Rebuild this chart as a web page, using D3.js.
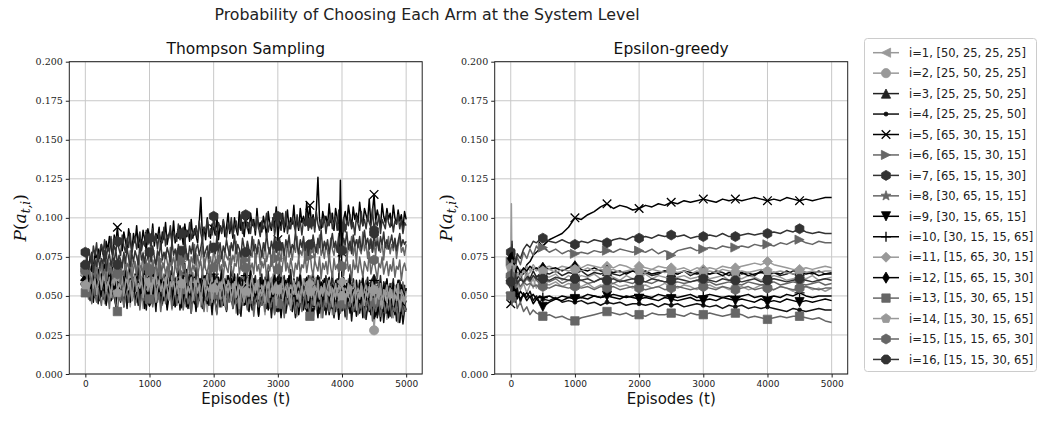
<!DOCTYPE html>
<html><head><meta charset="utf-8">
<script src="https://cdn.jsdelivr.net/npm/d3@7"></script>
<style>body{margin:0;background:#fff}svg{display:block}</style>
</head><body>
<svg id="chart" width="1038" height="423"></svg>
<script>
// ---------------- DATA ----------------
const suptitle = "Probability of Choosing Each Arm at the System Level";
const panelTitles = ["Thompson Sampling", "Epsilon-greedy"];
const xLabel = "Episodes (t)";
const xTicks = [0, 1000, 2000, 3000, 4000, 5000];
const yTicks = [0.000, 0.025, 0.050, 0.075, 0.100, 0.125, 0.150, 0.175, 0.200];
const seriesLabels = [
  "i=1, [50, 25, 25, 25]", "i=2, [25, 50, 25, 25]", "i=3, [25, 25, 50, 25]", "i=4, [25, 25, 25, 50]",
  "i=5, [65, 30, 15, 15]", "i=6, [65, 15, 30, 15]", "i=7, [65, 15, 15, 30]", "i=8, [30, 65, 15, 15]",
  "i=9, [30, 15, 65, 15]", "i=10, [30, 15, 15, 65]", "i=11, [15, 65, 30, 15]", "i=12, [15, 65, 15, 30]",
  "i=13, [15, 30, 65, 15]", "i=14, [15, 30, 15, 65]", "i=15, [15, 15, 65, 30]", "i=16, [15, 15, 30, 65]"
];
// Thompson Sampling: read every 25 episodes (0..5000)
const tsEpisodes = d3.range(0, 5001, 25);
const thompson = [
[0.066,0.061,0.054,0.060,0.052,0.063,0.058,0.055,0.068,0.051,0.060,0.056,0.064,0.049,0.059,0.062,0.053,0.066,0.057,0.050,0.061,0.055,0.063,0.047,0.058,0.064,0.052,0.060,0.056,0.067,0.054,0.059,0.049,0.062,0.057,0.053,0.065,0.050,0.058,0.061,0.055,0.063,0.048,0.057,0.060,0.052,0.066,0.056,0.051,0.062,0.058,0.046,0.060,0.055,0.064,0.051,0.057,0.062,0.049,0.059,0.063,0.054,0.058,0.050,0.065,0.056,0.052,0.061,0.047,0.058,0.062,0.055,0.049,0.063,0.057,0.053,0.060,0.066,0.051,0.056,0.059,0.048,0.062,0.054,0.058,0.045,0.061,0.056,0.063,0.050,0.057,0.052,0.064,0.049,0.059,0.055,0.061,0.047,0.058,0.062,0.053,0.060,0.046,0.057,0.063,0.051,0.056,0.059,0.048,0.061,0.055,0.050,0.062,0.056,0.044,0.058,0.053,0.064,0.049,0.057,0.060,0.052,0.047,0.061,0.055,0.058,0.050,0.063,0.054,0.046,0.059,0.056,0.051,0.062,0.048,0.057,0.053,0.060,0.045,0.058,0.054,0.061,0.049,0.056,0.052,0.063,0.047,0.058,0.055,0.050,0.060,0.046,0.057,0.053,0.062,0.049,0.055,0.059,0.044,0.057,0.052,0.060,0.048,0.055,0.061,0.050,0.056,0.043,0.058,0.053,0.047,0.059,0.054,0.062,0.049,0.056,0.051,0.058,0.045,0.060,0.053,0.048,0.057,0.051,0.061,0.046,0.055,0.059,0.049,0.054,0.044,0.058,0.052,0.056,0.047,0.060,0.051,0.055,0.042,0.057,0.053],
[0.058,0.053,0.061,0.049,0.056,0.051,0.063,0.047,0.055,0.059,0.050,0.057,0.045,0.060,0.053,0.048,0.062,0.052,0.056,0.044,0.058,0.051,0.055,0.047,0.061,0.053,0.049,0.057,0.043,0.059,0.052,0.056,0.046,0.060,0.050,0.054,0.042,0.058,0.051,0.047,0.057,0.049,0.053,0.060,0.045,0.055,0.050,0.058,0.044,0.052,0.056,0.047,0.059,0.051,0.041,0.054,0.049,0.057,0.046,0.052,0.058,0.044,0.053,0.050,0.056,0.042,0.055,0.048,0.059,0.046,0.051,0.055,0.043,0.057,0.049,0.053,0.040,0.054,0.050,0.047,0.056,0.045,0.052,0.058,0.043,0.051,0.048,0.055,0.041,0.053,0.049,0.056,0.046,0.051,0.039,0.054,0.048,0.052,0.044,0.057,0.050,0.042,0.053,0.047,0.056,0.040,0.051,0.049,0.054,0.043,0.052,0.046,0.038,0.055,0.048,0.051,0.044,0.057,0.047,0.041,0.053,0.049,0.045,0.055,0.039,0.050,0.047,0.052,0.043,0.054,0.046,0.051,0.037,0.053,0.048,0.044,0.055,0.042,0.050,0.047,0.052,0.040,0.049,0.045,0.054,0.043,0.048,0.036,0.051,0.046,0.053,0.041,0.047,0.050,0.038,0.052,0.044,0.049,0.043,0.054,0.045,0.050,0.036,0.048,0.053,0.042,0.047,0.044,0.051,0.039,0.049,0.045,0.052,0.037,0.048,0.043,0.050,0.041,0.054,0.046,0.028,0.044,0.049,0.038,0.047,0.051,0.040,0.045,0.035,0.049,0.043,0.048,0.036,0.046,0.050,0.039,0.044,0.047,0.034,0.045,0.041],
[0.060,0.066,0.057,0.063,0.070,0.055,0.061,0.067,0.053,0.064,0.059,0.071,0.056,0.062,0.052,0.068,0.060,0.065,0.054,0.063,0.058,0.069,0.055,0.061,0.066,0.051,0.064,0.059,0.072,0.056,0.062,0.053,0.067,0.058,0.064,0.050,0.061,0.069,0.055,0.060,0.065,0.057,0.052,0.068,0.059,0.063,0.054,0.070,0.058,0.062,0.049,0.064,0.060,0.056,0.067,0.053,0.061,0.058,0.066,0.051,0.063,0.059,0.071,0.055,0.060,0.064,0.050,0.062,0.057,0.068,0.054,0.061,0.058,0.065,0.048,0.063,0.056,0.060,0.067,0.052,0.062,0.057,0.064,0.051,0.059,0.066,0.055,0.061,0.049,0.063,0.058,0.069,0.054,0.060,0.056,0.064,0.050,0.062,0.059,0.065,0.053,0.061,0.057,0.067,0.052,0.058,0.063,0.049,0.060,0.056,0.064,0.051,0.059,0.055,0.066,0.053,0.061,0.048,0.062,0.057,0.060,0.065,0.052,0.058,0.063,0.050,0.061,0.056,0.067,0.054,0.059,0.047,0.062,0.057,0.064,0.052,0.058,0.061,0.049,0.063,0.055,0.060,0.066,0.051,0.058,0.054,0.062,0.048,0.060,0.057,0.063,0.052,0.059,0.056,0.065,0.050,0.058,0.061,0.047,0.060,0.055,0.062,0.051,0.058,0.053,0.064,0.049,0.061,0.056,0.059,0.046,0.060,0.055,0.063,0.051,0.057,0.062,0.048,0.058,0.054,0.061,0.050,0.057,0.053,0.063,0.047,0.059,0.056,0.060,0.049,0.058,0.054,0.061,0.046,0.057,0.052,0.060,0.055,0.050,0.057],
[0.056,0.050,0.058,0.047,0.054,0.061,0.049,0.055,0.045,0.059,0.052,0.048,0.057,0.044,0.053,0.060,0.047,0.051,0.056,0.043,0.055,0.050,0.046,0.058,0.049,0.054,0.042,0.057,0.051,0.047,0.059,0.045,0.052,0.056,0.044,0.053,0.049,0.058,0.041,0.054,0.050,0.055,0.046,0.052,0.040,0.056,0.048,0.053,0.045,0.057,0.049,0.043,0.054,0.050,0.058,0.044,0.051,0.047,0.055,0.041,0.052,0.048,0.056,0.043,0.050,0.054,0.039,0.051,0.046,0.053,0.045,0.055,0.049,0.042,0.052,0.047,0.056,0.044,0.050,0.038,0.053,0.046,0.051,0.055,0.043,0.049,0.045,0.054,0.040,0.050,0.047,0.052,0.042,0.049,0.055,0.044,0.048,0.037,0.051,0.046,0.050,0.043,0.053,0.047,0.041,0.052,0.046,0.049,0.038,0.051,0.044,0.049,0.054,0.042,0.047,0.050,0.036,0.048,0.045,0.052,0.041,0.047,0.050,0.044,0.053,0.039,0.046,0.049,0.043,0.051,0.045,0.036,0.048,0.044,0.050,0.041,0.047,0.052,0.040,0.046,0.049,0.042,0.035,0.047,0.044,0.051,0.039,0.046,0.043,0.049,0.038,0.045,0.050,0.042,0.047,0.036,0.044,0.048,0.041,0.046,0.043,0.049,0.037,0.045,0.042,0.048,0.034,0.046,0.040,0.044,0.047,0.039,0.045,0.041,0.049,0.035,0.043,0.046,0.038,0.044,0.041,0.047,0.036,0.043,0.040,0.046,0.033,0.044,0.039,0.045,0.037,0.043,0.040,0.046,0.034,0.042,0.038,0.044,0.032,0.041,0.040],
[0.063,0.070,0.066,0.075,0.071,0.068,0.078,0.073,0.080,0.074,0.083,0.077,0.072,0.085,0.079,0.088,0.081,0.076,0.089,0.084,0.094,0.082,0.087,0.079,0.091,0.085,0.080,0.093,0.086,0.078,0.090,0.084,0.095,0.081,0.088,0.083,0.092,0.086,0.079,0.093,0.088,0.084,0.096,0.082,0.090,0.087,0.094,0.080,0.091,0.086,0.097,0.083,0.089,0.092,0.085,0.098,0.084,0.090,0.087,0.095,0.090,0.083,0.096,0.088,0.092,0.085,0.099,0.087,0.093,0.089,0.084,0.097,0.113,0.088,0.094,0.086,0.100,0.091,0.087,0.096,0.093,0.089,0.101,0.086,0.095,0.091,0.098,0.088,0.094,0.103,0.090,0.096,0.087,0.100,0.093,0.089,0.104,0.092,0.097,0.088,0.098,0.094,0.090,0.103,0.095,0.099,0.089,0.106,0.093,0.097,0.091,0.101,0.095,0.088,0.104,0.096,0.092,0.100,0.094,0.107,0.086,0.099,0.094,0.103,0.091,0.097,0.105,0.093,0.100,0.096,0.108,0.094,0.099,0.092,0.106,0.097,0.101,0.095,0.110,0.098,0.108,0.096,0.102,0.094,0.105,0.126,0.099,0.093,0.104,0.098,0.101,0.095,0.109,0.097,0.103,0.092,0.106,0.100,0.096,0.111,0.078,0.099,0.104,0.096,0.108,0.101,0.094,0.107,0.099,0.103,0.097,0.110,0.100,0.095,0.106,0.102,0.098,0.112,0.096,0.104,0.115,0.098,0.105,0.100,0.094,0.109,0.101,0.097,0.106,0.099,0.103,0.095,0.108,0.100,0.096,0.105,0.098,0.102,0.093,0.104,0.099],
[0.068,0.063,0.072,0.066,0.060,0.070,0.065,0.074,0.062,0.069,0.073,0.064,0.070,0.076,0.066,0.071,0.063,0.075,0.068,0.072,0.067,0.074,0.062,0.070,0.077,0.065,0.071,0.068,0.079,0.066,0.073,0.069,0.064,0.076,0.070,0.067,0.078,0.065,0.072,0.075,0.069,0.080,0.066,0.073,0.070,0.077,0.064,0.074,0.071,0.068,0.078,0.072,0.067,0.081,0.070,0.075,0.069,0.079,0.066,0.074,0.072,0.068,0.080,0.073,0.077,0.065,0.075,0.071,0.083,0.070,0.076,0.069,0.074,0.082,0.068,0.073,0.078,0.070,0.075,0.067,0.080,0.074,0.071,0.084,0.072,0.077,0.069,0.079,0.075,0.073,0.082,0.070,0.076,0.072,0.085,0.074,0.078,0.068,0.080,0.076,0.073,0.083,0.071,0.078,0.075,0.086,0.072,0.077,0.081,0.070,0.079,0.074,0.084,0.072,0.077,0.081,0.069,0.080,0.076,0.087,0.074,0.079,0.072,0.083,0.077,0.070,0.085,0.075,0.080,0.073,0.082,0.078,0.088,0.074,0.079,0.076,0.084,0.071,0.081,0.077,0.075,0.086,0.079,0.073,0.083,0.077,0.089,0.076,0.080,0.074,0.084,0.078,0.072,0.087,0.080,0.076,0.083,0.079,0.090,0.075,0.081,0.077,0.085,0.073,0.082,0.079,0.088,0.076,0.083,0.071,0.086,0.080,0.077,0.091,0.079,0.084,0.074,0.082,0.087,0.078,0.083,0.076,0.089,0.081,0.078,0.085,0.073,0.084,0.080,0.088,0.077,0.083,0.079,0.086,0.074,0.082,0.088,0.078,0.081,0.076,0.083],
[0.078,0.073,0.080,0.075,0.070,0.082,0.076,0.084,0.072,0.079,0.083,0.077,0.086,0.074,0.081,0.078,0.088,0.075,0.082,0.079,0.085,0.080,0.076,0.089,0.082,0.078,0.087,0.081,0.090,0.077,0.084,0.088,0.080,0.086,0.091,0.079,0.085,0.082,0.092,0.083,0.087,0.081,0.093,0.085,0.089,0.080,0.090,0.086,0.084,0.094,0.082,0.089,0.087,0.095,0.083,0.091,0.088,0.085,0.096,0.086,0.090,0.094,0.084,0.092,0.088,0.097,0.086,0.091,0.089,0.095,0.087,0.098,0.090,0.085,0.094,0.091,0.099,0.088,0.093,0.089,0.101,0.092,0.088,0.097,0.094,0.090,0.099,0.093,0.087,0.096,0.092,0.100,0.089,0.095,0.098,0.091,0.094,0.102,0.090,0.097,0.102,0.093,0.097,0.090,0.099,0.095,0.092,0.101,0.094,0.088,0.098,0.093,0.096,0.103,0.091,0.097,0.094,0.100,0.089,0.096,0.101,0.095,0.092,0.099,0.094,0.104,0.090,0.097,0.093,0.100,0.096,0.091,0.102,0.094,0.098,0.089,0.099,0.095,0.103,0.092,0.097,0.093,0.100,0.091,0.104,0.096,0.092,0.099,0.094,0.101,0.090,0.098,0.095,0.103,0.093,0.097,0.100,0.092,0.105,0.096,0.094,0.100,0.091,0.098,0.095,0.102,0.093,0.097,0.089,0.101,0.096,0.092,0.104,0.095,0.099,0.093,0.101,0.097,0.094,0.106,0.092,0.098,0.095,0.102,0.090,0.099,0.096,0.093,0.103,0.097,0.094,0.100,0.091,0.098,0.096,0.102,0.093,0.099,0.090,0.097,0.095],
[0.062,0.057,0.065,0.053,0.060,0.067,0.055,0.061,0.058,0.052,0.064,0.059,0.054,0.066,0.060,0.056,0.063,0.050,0.061,0.058,0.068,0.055,0.060,0.057,0.065,0.052,0.062,0.059,0.054,0.066,0.056,0.061,0.064,0.053,0.059,0.057,0.067,0.054,0.061,0.058,0.063,0.051,0.058,0.065,0.055,0.061,0.049,0.060,0.057,0.064,0.053,0.060,0.056,0.066,0.054,0.058,0.062,0.050,0.059,0.055,0.063,0.052,0.060,0.057,0.049,0.061,0.056,0.065,0.053,0.058,0.060,0.051,0.057,0.062,0.054,0.059,0.047,0.058,0.055,0.063,0.051,0.058,0.053,0.061,0.048,0.057,0.060,0.052,0.056,0.046,0.059,0.054,0.062,0.050,0.057,0.053,0.060,0.048,0.058,0.055,0.061,0.049,0.056,0.059,0.052,0.057,0.046,0.060,0.054,0.058,0.050,0.057,0.062,0.053,0.056,0.048,0.059,0.055,0.061,0.051,0.057,0.054,0.046,0.060,0.055,0.058,0.050,0.062,0.053,0.057,0.049,0.058,0.055,0.061,0.052,0.056,0.045,0.059,0.054,0.057,0.060,0.051,0.056,0.053,0.062,0.049,0.057,0.054,0.059,0.047,0.056,0.061,0.052,0.057,0.050,0.058,0.055,0.044,0.057,0.053,0.059,0.050,0.056,0.053,0.060,0.048,0.055,0.058,0.051,0.057,0.054,0.045,0.058,0.052,0.056,0.060,0.049,0.055,0.053,0.058,0.047,0.056,0.052,0.059,0.050,0.055,0.043,0.057,0.053,0.056,0.051,0.058,0.046,0.054,0.057,0.050,0.055,0.052,0.059,0.048,0.055],
[0.055,0.050,0.058,0.048,0.053,0.046,0.057,0.051,0.060,0.047,0.054,0.049,0.056,0.045,0.052,0.058,0.047,0.053,0.050,0.044,0.055,0.051,0.048,0.057,0.043,0.052,0.049,0.056,0.046,0.053,0.058,0.047,0.051,0.044,0.055,0.049,0.053,0.042,0.050,0.056,0.046,0.052,0.048,0.057,0.044,0.051,0.054,0.045,0.050,0.047,0.053,0.041,0.049,0.055,0.046,0.051,0.043,0.054,0.048,0.050,0.045,0.052,0.047,0.056,0.042,0.049,0.053,0.046,0.050,0.040,0.051,0.047,0.054,0.043,0.049,0.052,0.045,0.048,0.055,0.042,0.050,0.046,0.039,0.052,0.047,0.053,0.044,0.049,0.041,0.051,0.048,0.054,0.043,0.047,0.050,0.038,0.049,0.045,0.052,0.044,0.047,0.051,0.040,0.048,0.053,0.044,0.046,0.050,0.037,0.049,0.045,0.052,0.043,0.047,0.041,0.050,0.046,0.054,0.039,0.048,0.044,0.049,0.036,0.047,0.051,0.042,0.048,0.045,0.050,0.040,0.047,0.043,0.052,0.038,0.046,0.049,0.041,0.048,0.044,0.051,0.039,0.047,0.043,0.050,0.045,0.036,0.048,0.044,0.049,0.041,0.046,0.050,0.038,0.045,0.042,0.049,0.044,0.047,0.035,0.046,0.043,0.048,0.040,0.046,0.050,0.039,0.045,0.042,0.048,0.037,0.045,0.041,0.049,0.036,0.046,0.043,0.047,0.040,0.044,0.048,0.038,0.045,0.042,0.047,0.034,0.044,0.040,0.046,0.043,0.036,0.045,0.041,0.047,0.038,0.043,0.046,0.033,0.042,0.039,0.044,0.041],
[0.060,0.066,0.057,0.063,0.069,0.055,0.062,0.058,0.067,0.053,0.064,0.059,0.070,0.056,0.061,0.065,0.054,0.068,0.060,0.057,0.063,0.071,0.058,0.062,0.055,0.066,0.060,0.053,0.067,0.061,0.056,0.064,0.059,0.069,0.055,0.062,0.058,0.066,0.052,0.063,0.060,0.057,0.068,0.054,0.061,0.065,0.056,0.063,0.059,0.051,0.064,0.058,0.062,0.055,0.069,0.057,0.061,0.053,0.066,0.060,0.055,0.063,0.059,0.067,0.052,0.060,0.064,0.057,0.062,0.054,0.065,0.058,0.061,0.050,0.063,0.059,0.066,0.055,0.060,0.057,0.064,0.052,0.059,0.062,0.056,0.067,0.054,0.060,0.058,0.063,0.051,0.061,0.057,0.064,0.055,0.059,0.062,0.049,0.060,0.056,0.063,0.054,0.058,0.066,0.053,0.061,0.057,0.059,0.050,0.062,0.056,0.060,0.054,0.064,0.058,0.052,0.061,0.057,0.065,0.053,0.059,0.055,0.062,0.048,0.058,0.060,0.054,0.063,0.056,0.051,0.061,0.057,0.053,0.059,0.064,0.050,0.058,0.055,0.062,0.054,0.057,0.060,0.049,0.058,0.055,0.063,0.052,0.059,0.056,0.061,0.053,0.058,0.062,0.050,0.057,0.054,0.060,0.048,0.059,0.124,0.056,0.061,0.052,0.058,0.055,0.063,0.050,0.057,0.054,0.060,0.047,0.058,0.055,0.061,0.052,0.056,0.059,0.049,0.057,0.054,0.060,0.051,0.056,0.053,0.059,0.046,0.057,0.054,0.061,0.050,0.056,0.052,0.058,0.048,0.055,0.060,0.051,0.057,0.053,0.049,0.055],
[0.064,0.059,0.054,0.066,0.061,0.056,0.063,0.069,0.057,0.062,0.053,0.065,0.060,0.067,0.055,0.062,0.058,0.064,0.070,0.057,0.061,0.054,0.066,0.058,0.063,0.060,0.052,0.065,0.059,0.068,0.056,0.062,0.058,0.051,0.065,0.061,0.057,0.063,0.054,0.067,0.059,0.055,0.062,0.058,0.066,0.053,0.060,0.064,0.056,0.061,0.055,0.068,0.058,0.053,0.063,0.059,0.051,0.062,0.057,0.065,0.053,0.060,0.056,0.064,0.050,0.058,0.062,0.055,0.061,0.052,0.063,0.057,0.054,0.060,0.049,0.059,0.064,0.055,0.058,0.062,0.051,0.057,0.061,0.054,0.059,0.048,0.063,0.056,0.052,0.060,0.056,0.050,0.058,0.054,0.061,0.051,0.057,0.053,0.047,0.059,0.055,0.061,0.052,0.057,0.063,0.050,0.058,0.054,0.060,0.048,0.057,0.053,0.060,0.055,0.046,0.058,0.062,0.052,0.056,0.059,0.049,0.057,0.054,0.061,0.052,0.055,0.058,0.047,0.057,0.053,0.060,0.051,0.056,0.059,0.048,0.055,0.061,0.053,0.057,0.050,0.058,0.054,0.045,0.057,0.052,0.060,0.049,0.056,0.053,0.058,0.051,0.056,0.060,0.047,0.055,0.052,0.058,0.050,0.057,0.054,0.059,0.048,0.055,0.052,0.058,0.046,0.056,0.053,0.060,0.050,0.055,0.051,0.058,0.044,0.054,0.057,0.050,0.056,0.052,0.059,0.053,0.048,0.056,0.051,0.058,0.045,0.054,0.052,0.057,0.049,0.055,0.050,0.046,0.056,0.052,0.058,0.048,0.054,0.051,0.047,0.053],
[0.061,0.056,0.064,0.051,0.058,0.065,0.054,0.060,0.057,0.063,0.050,0.059,0.055,0.062,0.057,0.052,0.064,0.058,0.054,0.061,0.056,0.049,0.060,0.055,0.063,0.052,0.058,0.054,0.061,0.048,0.057,0.062,0.053,0.059,0.051,0.056,0.061,0.050,0.058,0.054,0.060,0.047,0.055,0.061,0.052,0.057,0.050,0.062,0.054,0.059,0.049,0.056,0.053,0.060,0.046,0.055,0.058,0.051,0.061,0.053,0.057,0.050,0.054,0.059,0.048,0.056,0.052,0.058,0.045,0.055,0.058,0.051,0.053,0.060,0.047,0.055,0.050,0.057,0.052,0.044,0.056,0.051,0.058,0.048,0.054,0.050,0.057,0.046,0.053,0.056,0.048,0.054,0.043,0.052,0.056,0.047,0.051,0.055,0.045,0.050,0.054,0.049,0.056,0.046,0.052,0.057,0.048,0.053,0.044,0.055,0.050,0.046,0.054,0.051,0.057,0.045,0.052,0.049,0.055,0.043,0.051,0.055,0.047,0.053,0.049,0.056,0.044,0.051,0.054,0.048,0.053,0.042,0.050,0.055,0.047,0.052,0.049,0.056,0.045,0.051,0.048,0.054,0.046,0.050,0.053,0.041,0.049,0.052,0.047,0.055,0.044,0.051,0.048,0.053,0.046,0.050,0.040,0.049,0.052,0.045,0.050,0.047,0.053,0.043,0.049,0.051,0.046,0.054,0.044,0.048,0.052,0.045,0.049,0.042,0.051,0.047,0.053,0.044,0.048,0.050,0.046,0.051,0.041,0.048,0.052,0.045,0.049,0.043,0.050,0.047,0.040,0.048,0.045,0.050,0.043,0.047,0.051,0.039,0.046,0.044,0.047],
[0.052,0.057,0.048,0.054,0.045,0.059,0.050,0.046,0.055,0.049,0.044,0.053,0.047,0.056,0.051,0.042,0.054,0.048,0.052,0.045,0.040,0.051,0.047,0.055,0.043,0.050,0.053,0.046,0.056,0.048,0.052,0.044,0.049,0.054,0.041,0.051,0.047,0.057,0.045,0.050,0.048,0.053,0.043,0.050,0.055,0.046,0.052,0.040,0.049,0.054,0.045,0.051,0.047,0.056,0.042,0.049,0.053,0.044,0.050,0.046,0.054,0.041,0.048,0.052,0.045,0.050,0.039,0.051,0.047,0.055,0.043,0.049,0.052,0.046,0.040,0.050,0.047,0.053,0.044,0.048,0.051,0.045,0.038,0.049,0.053,0.043,0.047,0.050,0.041,0.052,0.046,0.049,0.042,0.054,0.045,0.048,0.039,0.050,0.044,0.047,0.052,0.041,0.048,0.045,0.051,0.037,0.047,0.050,0.043,0.049,0.044,0.051,0.040,0.047,0.053,0.042,0.046,0.049,0.038,0.048,0.045,0.050,0.042,0.047,0.036,0.049,0.044,0.051,0.041,0.046,0.049,0.039,0.046,0.043,0.050,0.040,0.047,0.052,0.042,0.045,0.037,0.048,0.044,0.050,0.041,0.046,0.043,0.049,0.036,0.047,0.043,0.049,0.040,0.045,0.051,0.038,0.046,0.042,0.048,0.039,0.045,0.041,0.048,0.035,0.046,0.043,0.049,0.040,0.044,0.047,0.038,0.045,0.042,0.048,0.036,0.044,0.047,0.041,0.045,0.034,0.046,0.040,0.044,0.048,0.037,0.043,0.046,0.039,0.045,0.041,0.047,0.036,0.043,0.040,0.046,0.033,0.042,0.045,0.038,0.043,0.040],
[0.057,0.062,0.053,0.059,0.065,0.055,0.061,0.051,0.058,0.064,0.054,0.060,0.066,0.053,0.059,0.056,0.049,0.062,0.057,0.064,0.052,0.058,0.055,0.063,0.050,0.059,0.061,0.054,0.060,0.047,0.057,0.063,0.053,0.058,0.055,0.061,0.049,0.056,0.062,0.053,0.059,0.051,0.057,0.062,0.046,0.055,0.060,0.053,0.058,0.050,0.062,0.055,0.048,0.059,0.056,0.061,0.051,0.057,0.054,0.045,0.058,0.055,0.062,0.049,0.056,0.052,0.059,0.047,0.055,0.060,0.052,0.057,0.044,0.055,0.061,0.050,0.056,0.053,0.058,0.046,0.055,0.060,0.051,0.056,0.048,0.058,0.053,0.043,0.057,0.052,0.058,0.047,0.054,0.059,0.049,0.055,0.042,0.056,0.051,0.046,0.053,0.058,0.050,0.055,0.047,0.057,0.052,0.060,0.048,0.054,0.050,0.056,0.045,0.053,0.059,0.049,0.055,0.051,0.057,0.044,0.054,0.050,0.058,0.047,0.053,0.056,0.049,0.055,0.042,0.054,0.051,0.057,0.048,0.053,0.046,0.056,0.050,0.054,0.059,0.047,0.053,0.049,0.056,0.044,0.052,0.055,0.048,0.054,0.050,0.057,0.046,0.053,0.050,0.056,0.043,0.052,0.049,0.055,0.047,0.053,0.050,0.055,0.045,0.052,0.049,0.057,0.046,0.051,0.054,0.041,0.052,0.048,0.055,0.050,0.044,0.053,0.049,0.056,0.047,0.051,0.054,0.045,0.051,0.048,0.055,0.042,0.050,0.053,0.046,0.052,0.049,0.054,0.044,0.051,0.047,0.053,0.040,0.050,0.048,0.045,0.050],
[0.066,0.061,0.069,0.063,0.058,0.067,0.062,0.071,0.060,0.065,0.070,0.063,0.067,0.059,0.073,0.064,0.068,0.061,0.066,0.072,0.064,0.069,0.058,0.066,0.063,0.074,0.061,0.068,0.071,0.060,0.067,0.072,0.063,0.075,0.061,0.069,0.065,0.073,0.062,0.070,0.066,0.059,0.073,0.065,0.070,0.063,0.076,0.061,0.068,0.071,0.064,0.069,0.062,0.074,0.067,0.060,0.072,0.065,0.069,0.063,0.075,0.066,0.070,0.059,0.068,0.073,0.064,0.070,0.066,0.077,0.063,0.069,0.072,0.062,0.074,0.067,0.065,0.071,0.061,0.070,0.068,0.073,0.064,0.076,0.066,0.070,0.062,0.072,0.068,0.065,0.074,0.067,0.063,0.071,0.069,0.078,0.064,0.070,0.066,0.073,0.068,0.062,0.075,0.067,0.071,0.064,0.077,0.066,0.070,0.063,0.072,0.068,0.074,0.061,0.070,0.066,0.076,0.069,0.064,0.072,0.067,0.073,0.063,0.070,0.078,0.066,0.071,0.065,0.074,0.068,0.062,0.071,0.067,0.075,0.064,0.070,0.068,0.077,0.065,0.072,0.080,0.068,0.063,0.073,0.069,0.066,0.075,0.061,0.071,0.067,0.072,0.064,0.077,0.068,0.062,0.074,0.067,0.070,0.065,0.073,0.069,0.063,0.071,0.076,0.066,0.070,0.060,0.073,0.067,0.071,0.065,0.075,0.068,0.062,0.072,0.069,0.066,0.078,0.064,0.070,0.073,0.067,0.061,0.071,0.068,0.075,0.064,0.069,0.072,0.063,0.070,0.066,0.074,0.062,0.069,0.067,0.073,0.060,0.068,0.071,0.066],
[0.070,0.075,0.067,0.072,0.078,0.065,0.073,0.069,0.076,0.068,0.074,0.071,0.079,0.066,0.073,0.077,0.069,0.075,0.072,0.080,0.070,0.076,0.073,0.068,0.078,0.071,0.081,0.074,0.069,0.077,0.072,0.079,0.075,0.070,0.083,0.073,0.077,0.071,0.080,0.074,0.078,0.072,0.082,0.075,0.070,0.079,0.076,0.084,0.073,0.078,0.074,0.081,0.077,0.072,0.085,0.076,0.080,0.073,0.083,0.077,0.079,0.075,0.086,0.078,0.073,0.082,0.077,0.084,0.071,0.080,0.083,0.076,0.081,0.087,0.075,0.079,0.082,0.074,0.085,0.078,0.081,0.077,0.088,0.079,0.084,0.074,0.082,0.078,0.086,0.080,0.076,0.084,0.079,0.089,0.077,0.083,0.080,0.075,0.087,0.081,0.078,0.085,0.080,0.076,0.088,0.079,0.083,0.077,0.086,0.082,0.075,0.084,0.079,0.090,0.081,0.077,0.085,0.080,0.088,0.078,0.082,0.087,0.079,0.084,0.076,0.086,0.081,0.089,0.078,0.083,0.080,0.091,0.082,0.077,0.086,0.081,0.088,0.079,0.084,0.076,0.083,0.080,0.089,0.082,0.078,0.087,0.081,0.092,0.079,0.085,0.080,0.086,0.077,0.084,0.090,0.081,0.085,0.078,0.088,0.082,0.079,0.087,0.083,0.091,0.080,0.085,0.077,0.089,0.082,0.086,0.081,0.088,0.079,0.084,0.092,0.083,0.087,0.080,0.086,0.078,0.090,0.082,0.085,0.079,0.088,0.083,0.091,0.081,0.086,0.080,0.084,0.089,0.081,0.087,0.079,0.085,0.090,0.082,0.086,0.083,0.085]
];
// Epsilon-greedy: dense early readings, then every 100 episodes
const egEpisodes = [0,10,20,30,50,75,100,150,200,250,300,350,400,450,
  500,600,700,800,900,1000,1100,1200,1300,1400,1500,1600,1700,1800,1900,2000,
  2100,2200,2300,2400,2500,2600,2700,2800,2900,3000,3100,3200,3300,3400,3500,
  3600,3700,3800,3900,4000,4100,4200,4300,4400,4500,4600,4700,4800,4900,5000];
const epsGreedy = [
[0.070,0.109,0.060,0.075,0.058,0.068,0.052,0.064,0.059,0.066,0.061,0.055,0.063,0.058, 0.063,0.062,0.064,0.060,0.063,0.061,0.063,0.062,0.064,0.061,0.063,0.062,0.060,0.063,0.061,0.062,0.064,0.061,0.063,0.062,0.060,0.062,0.063,0.061,0.062,0.064,0.061,0.062,0.063,0.060,0.062,0.061,0.063,0.062,0.060,0.061,0.063,0.062,0.060,0.061,0.062,0.061,0.063,0.060,0.061,0.062],
[0.062,0.048,0.071,0.055,0.066,0.050,0.060,0.054,0.058,0.052,0.057,0.061,0.055,0.059, 0.058,0.057,0.059,0.056,0.058,0.057,0.056,0.058,0.055,0.057,0.056,0.058,0.056,0.057,0.055,0.056,0.057,0.055,0.056,0.058,0.056,0.055,0.057,0.056,0.054,0.056,0.057,0.055,0.056,0.054,0.055,0.056,0.054,0.055,0.057,0.055,0.054,0.056,0.055,0.053,0.055,0.056,0.054,0.055,0.053,0.055],
[0.066,0.058,0.074,0.062,0.069,0.057,0.065,0.060,0.067,0.063,0.061,0.066,0.062,0.064, 0.065,0.064,0.066,0.063,0.065,0.064,0.066,0.063,0.065,0.064,0.066,0.064,0.063,0.065,0.066,0.064,0.065,0.063,0.064,0.066,0.065,0.064,0.066,0.063,0.065,0.065,0.064,0.066,0.065,0.063,0.066,0.064,0.065,0.063,0.066,0.064,0.065,0.063,0.064,0.066,0.066,0.065,0.064,0.066,0.064,0.065],
[0.060,0.052,0.068,0.047,0.058,0.050,0.055,0.046,0.052,0.049,0.053,0.047,0.050,0.046, 0.048,0.047,0.049,0.046,0.047,0.046,0.047,0.045,0.046,0.044,0.046,0.045,0.046,0.044,0.045,0.045,0.044,0.045,0.043,0.045,0.044,0.045,0.043,0.044,0.045,0.044,0.043,0.044,0.042,0.044,0.043,0.044,0.042,0.043,0.042,0.043,0.042,0.041,0.040,0.042,0.041,0.040,0.041,0.042,0.041,0.041],
[0.045,0.060,0.052,0.066,0.058,0.063,0.061,0.066,0.064,0.070,0.072,0.076,0.078,0.080, 0.082,0.086,0.088,0.090,0.094,0.100,0.099,0.102,0.104,0.107,0.109,0.106,0.108,0.107,0.105,0.106,0.108,0.107,0.109,0.108,0.110,0.109,0.111,0.110,0.111,0.112,0.111,0.110,0.112,0.111,0.112,0.111,0.112,0.113,0.112,0.111,0.112,0.111,0.113,0.112,0.111,0.112,0.111,0.112,0.113,0.113],
[0.072,0.058,0.083,0.064,0.077,0.068,0.075,0.070,0.078,0.074,0.080,0.076,0.082,0.079, 0.081,0.078,0.080,0.077,0.079,0.077,0.078,0.077,0.079,0.078,0.079,0.078,0.080,0.079,0.078,0.079,0.078,0.080,0.077,0.079,0.076,0.079,0.080,0.081,0.079,0.080,0.081,0.080,0.082,0.081,0.081,0.082,0.081,0.083,0.082,0.083,0.082,0.084,0.083,0.085,0.086,0.084,0.083,0.085,0.084,0.084],
[0.078,0.066,0.085,0.072,0.080,0.070,0.077,0.074,0.080,0.083,0.081,0.085,0.084,0.086, 0.087,0.085,0.084,0.086,0.084,0.083,0.085,0.084,0.086,0.085,0.084,0.086,0.087,0.086,0.088,0.087,0.088,0.087,0.089,0.088,0.089,0.088,0.089,0.087,0.088,0.088,0.089,0.088,0.090,0.088,0.088,0.089,0.090,0.089,0.090,0.090,0.091,0.090,0.092,0.091,0.093,0.091,0.090,0.091,0.090,0.090],
[0.061,0.068,0.055,0.064,0.059,0.066,0.057,0.062,0.058,0.061,0.059,0.063,0.060,0.058, 0.060,0.059,0.061,0.058,0.060,0.059,0.060,0.058,0.059,0.061,0.059,0.058,0.060,0.059,0.058,0.060,0.059,0.058,0.060,0.059,0.058,0.059,0.058,0.059,0.060,0.058,0.059,0.057,0.058,0.059,0.058,0.057,0.059,0.058,0.057,0.058,0.059,0.057,0.058,0.059,0.058,0.057,0.058,0.059,0.057,0.058],
[0.057,0.048,0.062,0.051,0.055,0.046,0.052,0.048,0.051,0.047,0.050,0.045,0.048,0.046, 0.043,0.046,0.048,0.047,0.049,0.048,0.049,0.048,0.050,0.049,0.050,0.049,0.048,0.050,0.049,0.048,0.049,0.048,0.047,0.049,0.048,0.047,0.048,0.049,0.047,0.047,0.048,0.047,0.049,0.048,0.047,0.048,0.047,0.046,0.048,0.046,0.047,0.046,0.048,0.047,0.046,0.047,0.046,0.047,0.048,0.047],
[0.052,0.060,0.046,0.057,0.049,0.055,0.048,0.053,0.050,0.052,0.049,0.051,0.048,0.050, 0.049,0.050,0.048,0.050,0.049,0.050,0.049,0.051,0.050,0.049,0.050,0.051,0.050,0.049,0.050,0.051,0.050,0.049,0.051,0.050,0.050,0.049,0.050,0.051,0.049,0.050,0.051,0.050,0.049,0.050,0.049,0.050,0.051,0.049,0.050,0.049,0.050,0.049,0.051,0.050,0.052,0.050,0.049,0.050,0.050,0.050],
[0.064,0.072,0.057,0.068,0.061,0.070,0.063,0.067,0.065,0.069,0.066,0.070,0.067,0.069, 0.068,0.069,0.067,0.069,0.068,0.069,0.068,0.070,0.069,0.068,0.069,0.068,0.070,0.069,0.067,0.069,0.068,0.067,0.069,0.068,0.068,0.067,0.068,0.066,0.068,0.067,0.068,0.067,0.069,0.068,0.068,0.069,0.070,0.071,0.070,0.072,0.070,0.069,0.068,0.067,0.067,0.068,0.067,0.068,0.069,0.068],
[0.074,0.062,0.078,0.066,0.071,0.063,0.069,0.065,0.068,0.066,0.069,0.067,0.068,0.066, 0.068,0.067,0.068,0.066,0.068,0.069,0.067,0.066,0.068,0.066,0.066,0.065,0.066,0.064,0.066,0.065,0.066,0.064,0.065,0.066,0.065,0.064,0.066,0.065,0.064,0.065,0.064,0.065,0.063,0.065,0.064,0.065,0.063,0.064,0.065,0.064,0.065,0.064,0.066,0.064,0.065,0.064,0.065,0.063,0.064,0.064],
[0.050,0.058,0.044,0.052,0.046,0.049,0.042,0.046,0.040,0.043,0.038,0.041,0.039,0.038, 0.037,0.038,0.036,0.037,0.035,0.034,0.036,0.037,0.038,0.039,0.040,0.039,0.038,0.039,0.037,0.038,0.037,0.039,0.038,0.038,0.039,0.038,0.037,0.039,0.038,0.038,0.039,0.038,0.037,0.038,0.039,0.038,0.036,0.037,0.036,0.035,0.036,0.037,0.036,0.037,0.037,0.036,0.035,0.036,0.034,0.033],
[0.068,0.056,0.073,0.061,0.067,0.059,0.064,0.062,0.066,0.063,0.065,0.068,0.066,0.067, 0.066,0.067,0.065,0.067,0.066,0.067,0.066,0.068,0.066,0.067,0.066,0.067,0.065,0.066,0.067,0.066,0.065,0.067,0.066,0.065,0.066,0.065,0.066,0.064,0.066,0.065,0.066,0.065,0.067,0.066,0.065,0.066,0.065,0.066,0.067,0.066,0.065,0.066,0.065,0.064,0.066,0.065,0.066,0.065,0.066,0.066],
[0.063,0.054,0.069,0.057,0.062,0.055,0.060,0.056,0.059,0.057,0.058,0.056,0.057,0.055, 0.056,0.055,0.057,0.056,0.055,0.056,0.055,0.056,0.054,0.056,0.055,0.056,0.054,0.055,0.056,0.055,0.054,0.055,0.056,0.054,0.055,0.056,0.055,0.054,0.055,0.056,0.055,0.054,0.056,0.055,0.054,0.055,0.056,0.054,0.055,0.055,0.054,0.056,0.055,0.054,0.055,0.056,0.055,0.054,0.055,0.055],
[0.059,0.067,0.053,0.062,0.057,0.064,0.058,0.061,0.059,0.062,0.060,0.063,0.061,0.060, 0.061,0.060,0.062,0.061,0.060,0.061,0.060,0.061,0.059,0.061,0.060,0.061,0.059,0.060,0.061,0.060,0.059,0.061,0.060,0.059,0.060,0.061,0.060,0.059,0.060,0.061,0.060,0.059,0.061,0.060,0.060,0.059,0.060,0.061,0.059,0.060,0.061,0.060,0.059,0.060,0.061,0.060,0.059,0.060,0.061,0.060]
];
// ---------------- STYLE ----------------
const seriesColors = ["#999999","#999999","#222222","#111111","#000000","#666666","#333333","#666666",
  "#000000","#000000","#999999","#000000","#666666","#999999","#666666","#333333"];
const seriesMarkers = ["<","o","^",".","x",">","h","*","v","+","D","d","s","p","h","8"];

function markerPath(m) {
  const poly = pts => "M" + pts.map(p => p[0].toFixed(2) + "," + p[1].toFixed(2)).join("L") + "Z";
  const reg = (n, r, rot) => d3.range(n).map(k => { const a = rot + 2 * Math.PI * k / n; return [r * Math.cos(a), r * Math.sin(a)]; });
  const circ = r => `M${r},0A${r},${r} 0 1 1 ${-r},0A${r},${r} 0 1 1 ${r},0Z`;
  const t = 4.6;
  switch (m) {
    case "o": return circ(4.6);
    case ".": return circ(2.0);
    case "^": return poly([[0,-t],[-t,t],[t,t]]);
    case "v": return poly([[0,t],[-t,-t],[t,-t]]);
    case "<": return poly([[-t,0],[t,-t],[t,t]]);
    case ">": return poly([[t,0],[-t,-t],[-t,t]]);
    case "x": return "M-4.3,-4.3L4.3,4.3M-4.3,4.3L4.3,-4.3";
    case "+": return "M-5,0L5,0M0,-5L0,5";
    case "h": return poly(reg(6, 5.0, -Math.PI / 2));
    case "8": return poly(reg(8, 4.8, Math.PI / 8));
    case "p": return poly(reg(5, 4.9, -Math.PI / 2));
    case "*": return poly(d3.range(10).map(k => { const a = -Math.PI / 2 + Math.PI * k / 5; const r = k % 2 ? 2.1 : 5.2; return [r * Math.cos(a), r * Math.sin(a)]; }));
    case "D": return poly([[0,-5],[5,0],[0,5],[-5,0]]);
    case "d": return poly([[0,-5.6],[3.4,0],[0,5.6],[-3.4,0]]);
    case "s": return poly([[-4.2,-4.2],[4.2,-4.2],[4.2,4.2],[-4.2,4.2]]);
  }
}
const strokeOnly = m => m === "x" || m === "+";

// ---------------- DRAW ----------------
const svg = d3.select("#chart");
const SANS = "DejaVu Sans, sans-serif";
const SERIF = "DejaVu Serif, serif";

svg.append("text").attr("x", 427).attr("y", 19.5).attr("text-anchor", "middle")
  .attr("font-family", SANS).attr("font-size", 15.8).attr("fill", "#222").text(suptitle);

const plotTop = 61.7, plotBottom = 374;
const panels = [
  { x0: 69.3, x1: 422.2, ep: tsEpisodes, data: thompson, title: panelTitles[0] },
  { x0: 494.7, x1: 847.7, ep: egEpisodes, data: epsGreedy, title: panelTitles[1] }
];

panels.forEach((p, pi) => {
  const x = d3.scaleLinear().domain([-250, 5250]).range([p.x0, p.x1]);
  const y = d3.scaleLinear().domain([0, 0.2]).range([plotBottom, plotTop]);
  const g = svg.append("g");
  const clipId = "clip" + pi;
  svg.append("clipPath").attr("id", clipId).append("rect")
    .attr("x", p.x0).attr("y", plotTop).attr("width", p.x1 - p.x0).attr("height", plotBottom - plotTop);

  // grid
  g.append("g").selectAll("line").data(xTicks).join("line")
    .attr("x1", d => x(d)).attr("x2", d => x(d)).attr("y1", plotTop).attr("y2", plotBottom)
    .attr("stroke", "#c8c8c8").attr("stroke-width", 1);
  g.append("g").selectAll("line").data(yTicks).join("line")
    .attr("x1", p.x0).attr("x2", p.x1).attr("y1", d => y(d)).attr("y2", d => y(d))
    .attr("stroke", "#c8c8c8").attr("stroke-width", 1);

  // series
  const plot = g.append("g").attr("clip-path", `url(#${clipId})`);
  const line = d3.line().x((d, i) => x(p.ep[i])).y(d => y(d));
  p.data.forEach((vals, si) => {
    const sg = plot.append("g");
    sg.append("path").attr("d", line(vals)).attr("fill", "none")
      .attr("stroke", seriesColors[si]).attr("stroke-width", 1.5).attr("stroke-linejoin", "round");
    const mk = vals.map((v, i) => ({ x: p.ep[i], v })).filter(d => d.x % 500 === 0 && d.x < 5000);
    const m = seriesMarkers[si];
    sg.selectAll("path.m").data(mk).join("path").attr("class", "m")
      .attr("transform", d => `translate(${x(d.x)},${y(d.v)})`)
      .attr("d", markerPath(m))
      .attr("fill", strokeOnly(m) ? "none" : seriesColors[si])
      .attr("stroke", seriesColors[si]).attr("stroke-width", strokeOnly(m) ? 1.3 : 0.8);
  });

  // axes
  const ax = d3.axisBottom(x).tickValues(xTicks).tickSize(3.5).tickPadding(3).tickFormat(d3.format("d"));
  const xa = g.append("g").attr("transform", `translate(0,${plotBottom})`).call(ax);
  xa.select(".domain").remove();
  xa.selectAll("text").attr("font-family", SANS).attr("font-size", 9).attr("fill", "#222");
  xa.selectAll("line").attr("stroke", "#222");
  const ay = d3.axisLeft(y).tickValues(yTicks).tickSize(3.5).tickPadding(3).tickFormat(d3.format(".3f"));
  const ya = g.append("g").attr("transform", `translate(${p.x0},0)`).call(ay);
  ya.select(".domain").remove();
  ya.selectAll("text").attr("font-family", SERIF).attr("font-size", 9.5).attr("fill", "#222");
  ya.selectAll("line").attr("stroke", "#222");
  // spines
  g.append("rect").attr("x", p.x0).attr("y", plotTop).attr("width", p.x1 - p.x0).attr("height", plotBottom - plotTop)
    .attr("fill", "none").attr("stroke", "#222").attr("stroke-width", 1);

  // titles & labels
  svg.append("text").attr("x", (p.x0 + p.x1) / 2).attr("y", 54.3).attr("text-anchor", "middle")
    .attr("font-family", SANS).attr("font-size", 15.5).attr("fill", "#111").text(p.title);
  svg.append("text").attr("x", (p.x0 + p.x1) / 2).attr("y", 403.5).attr("text-anchor", "middle")
    .attr("font-family", SANS).attr("font-size", 15).attr("fill", "#111").text(xLabel);
  const yl = svg.append("text").attr("transform", `translate(${p.x0 - 43},${(plotTop + plotBottom) / 2}) rotate(-90)`)
    .attr("text-anchor", "middle").attr("font-family", SERIF).attr("font-size", 17).attr("fill", "#111");
  yl.append("tspan").attr("font-style", "italic").text("P");
  yl.append("tspan").text("(");
  yl.append("tspan").attr("font-style", "italic").text("a");
  yl.append("tspan").attr("font-style", "italic").attr("font-size", 12).attr("dy", 4).text("t,i");
  yl.append("tspan").attr("dy", -4).text(")");
});

// legend
const lg = svg.append("g");
lg.append("rect").attr("x", 864.5).attr("y", 38.5).attr("width", 172).attr("height", 333).attr("rx", 3)
  .attr("fill", "#fff").attr("stroke", "#cccccc").attr("stroke-width", 1);
seriesLabels.forEach((lab, si) => {
  const yy = 52.7 + si * 20.45;
  const m = seriesMarkers[si];
  lg.append("line").attr("x1", 873).attr("x2", 899).attr("y1", yy).attr("y2", yy)
    .attr("stroke", seriesColors[si]).attr("stroke-width", 1.5);
  lg.append("path").attr("transform", `translate(886,${yy})`).attr("d", markerPath(m))
    .attr("fill", strokeOnly(m) ? "none" : seriesColors[si]).attr("stroke", seriesColors[si])
    .attr("stroke-width", strokeOnly(m) ? 1.3 : 0.8);
  lg.append("text").attr("x", 909).attr("y", yy + 4.2).attr("font-family", SANS).attr("font-size", 11.5)
    .attr("fill", "#222").text(lab);
});
</script>
</body></html>
